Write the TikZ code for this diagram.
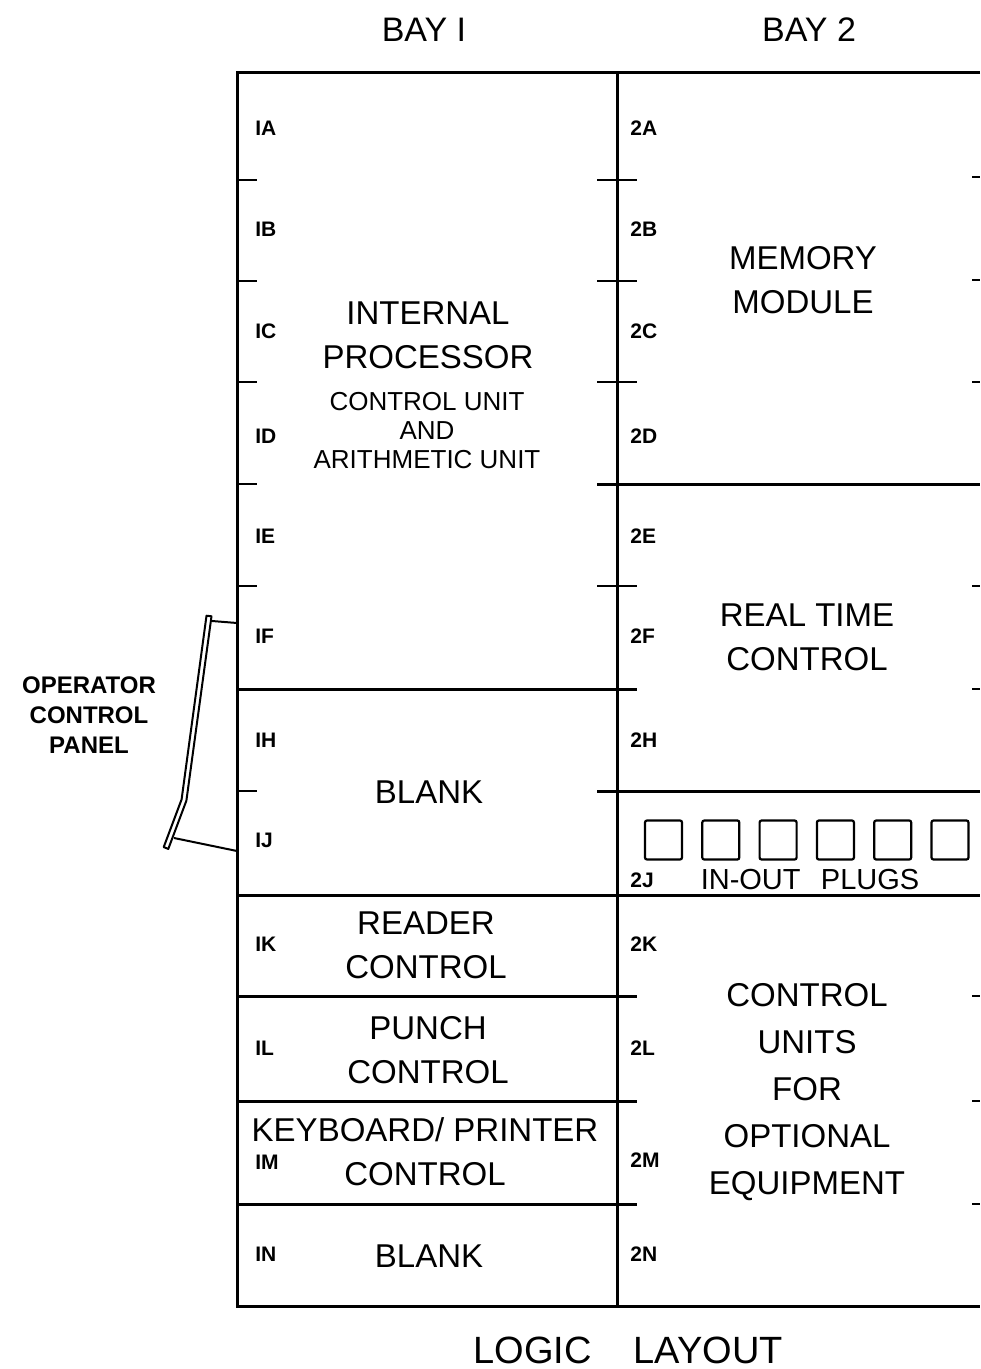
\documentclass[tikz,border=0pt]{standalone}
\usepackage{fontspec}
\setmainfont{Liberation Sans}
\usetikzlibrary{positioning}

\begin{document}
\begin{tikzpicture}[
  x=0.5pt, y=-0.5pt,
  frame/.style={line width=1.5pt},
  tick/.style={line width=1.3pt},
  big/.style={font=\fontsize{16.5}{22}\selectfont, align=center, inner sep=0pt},
  mid/.style={font=\fontsize{13}{14.5}\selectfont, align=center, inner sep=0pt},
  slot/.style={font=\bfseries\fontsize{10.5}{12}\selectfont, anchor=west, inner sep=0pt},
  plug/.style={draw, line width=1.1pt, rounded corners=1pt,
               minimum width=18.5pt, minimum height=19.5pt, inner sep=0pt},
  panel/.style={line width=1pt, line join=round},
]
  \useasboundingbox (0,0) rectangle (980,1369);

  % cabinet outline
  \draw[frame] (980,73) -- (237,73) -- (237,1306) -- (980,1306);
  \draw[frame] (617,73) -- (617,1306);

  % bay 1 row marks
  \foreach \y in {180,281,382,484,586,791}
    \draw[tick] (237,\y) -- (257,\y);
  \foreach \y in {689,996,1101,1204}
    \draw[frame] (237,\y) -- (637,\y);
  \draw[frame] (237,895) -- (980,895);

  % bay 2 row marks
  \foreach \y in {180,281,382,586}
    \draw[tick] (597,\y) -- (637,\y);
  \draw[frame] (597,484) -- (980,484);
  \draw[frame] (597,791) -- (980,791);
  \foreach \y in {177,280,382,586,689,996,1101,1204}
    \draw[tick] (972,\y) -- (980,\y);

  % slot labels
  \foreach \s/\y in {A/128,B/229,C/331,D/436,E/536,F/636,H/740,J/840,K/944,L/1048,M/1162,N/1254}
    \node[slot] (l\s) at (255,\y) {I\s};
  \foreach \s/\y in {A/128,B/229,C/331,D/436,E/536,F/636,H/740,J/880,K/944,L/1048,M/1160,N/1254}
    \node[slot] (r\s) at (630,\y) {2\s};

  % headings
  \node[big, font=\fontsize{17}{20}\selectfont] (bay1) at (424,30) {BAY I};
  \node[big, font=\fontsize{17}{20}\selectfont] (bay2) at (809,30) {BAY 2};
  \node[big, font=\fontsize{19}{22}\selectfont] (logic) at (628,1350) {LOGIC\hspace{1.1em}LAYOUT};

  % bay 1 units
  \node[big] (ip) at (428,335) {INTERNAL\\PROCESSOR};
  \node[mid] (cu) at (427,431) {CONTROL UNIT\\AND\\ARITHMETIC UNIT};
  \node[big] (blank1) at (429,792) {BLANK};
  \node[big] (rdr) at (426,945) {READER\\CONTROL};
  \node[big] (pch) at (428,1050) {PUNCH\\CONTROL};
  \node[big] (kbd) at (425,1152) {KEYBOARD/ PRINTER\\CONTROL};
  \node[big] (blank2) at (429,1256) {BLANK};

  % bay 2 units
  \node[big] (mem) at (803,280) {MEMORY\\MODULE};
  \node[big] (rtc) at (807,637) {REAL TIME\\CONTROL};
  \node[big, font=\fontsize{14.5}{16}\selectfont] (plugs) at (810,880) {IN-OUT\hspace{0.7em}PLUGS};
  \foreach \i in {0,...,5}
    \node[plug] (p\i) at (663.5+57.3*\i,840) {};
  \node[big, font=\fontsize{16.5}{23.5}\selectfont] (opt) at (807,1092)
    {CONTROL\\UNITS\\FOR\\OPTIONAL\\EQUIPMENT};

  % operator control panel
  \node[big, font=\bfseries\fontsize{12}{15}\selectfont] (ocp) at (89,715) {OPERATOR\\CONTROL\\PANEL};
  \draw[panel] (206.5,615.7) -- (181.6,799.4) -- (163.7,847.1) -- (168.3,848.9)
    -- (186.4,800.6) -- (211.5,616.3) -- cycle;
  \coordinate (pt) at (212,621);
  \coordinate (pb) at (174,838);
  \coordinate (ft) at (237,623);
  \coordinate (fb) at (237,851);
  \draw[panel] (pt) -- (ft);
  \draw[panel] (pb) -- (fb);
\end{tikzpicture}
\end{document}
